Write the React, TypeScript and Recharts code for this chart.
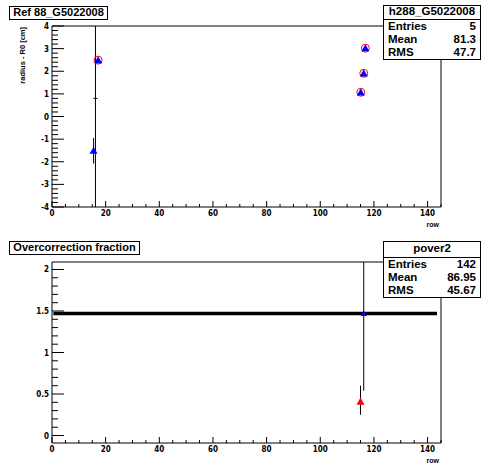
import React from 'react'
import { ScatterChart, Scatter, XAxis, YAxis, ErrorBar, ReferenceArea, Label } from 'recharts'

const FONT = '"Liberation Sans", Arial, Helvetica, sans-serif'
const TICK_FONT = '"Liberation Sans Narrow", "DejaVu Sans Condensed", "Liberation Sans", sans-serif'

// Top panel: radius - R0 per row
const refRows = [17.2, 115.1, 116.2, 116.8]
const refValues = [2.49, 1.07, 1.91, 3.02]
const fitRows = [15.5, 17.2, 115.1, 116.2, 116.8]
const fitValues = [-1.51, 2.49, 1.07, 1.91, 3.02]
const fitErrors = [[0.57, 0.56], [0, 0], [0, 0], [0, 0], [0, 0]]
const wideRows = [16.2]
const wideValues = [0.8]
const wideErrors = [[4.8, 3.2]]

// Bottom panel: overcorrection fraction
const levelRows = [0.5, 143.5]
const levelValues = [1.47, 1.47]
const blueRows = [116.2]
const blueValues = [1.47]
const blueErrors = [[0.93, 0.62]]
const redRows = [115.0]
const redValues = [0.41]
const redErrors = [[0.16, 0.19]]

// axis labels
const rowTicks = [0, 20, 40, 60, 80, 100, 120, 140]
const radiusTicks = [-4, -3, -2, -1, 0, 1, 2, 3, 4]
const fractionTicks = [0, 0.5, 1, 1.5, 2]

const topStats = [['Entries', '5'], ['Mean', '81.3'], ['RMS', '47.7']]
const bottomStats = [['Entries', '142'], ['Mean', '86.95'], ['RMS', '45.67']]

const toPoints = (xs: number[], ys: number[], errs?: number[][]) =>
    xs.map((x, i) => ({ x, y: ys[i], err: errs ? errs[i] : undefined }))

// major ticks plus the small ones in between
function subdivide(lo: number, hi: number, step: number) {
    const out: number[] = []
    for (let v = lo; v <= hi + 1e-9; v += step) out.push(Math.round(v * 1000) / 1000)
    return out
}
const isMajor = (majors: number[], v: number) => majors.some(m => Math.abs(m - v) < 1e-6)

const rowAll = subdivide(0, 145, 5)

function XTick(props: any) {
    const { x, y, payload } = props
    const major = isMajor(rowTicks, payload.value)
    const base = y - 3
    return (
        <g>
            <line x1={x} y1={base} x2={x} y2={base - (major ? 6 : 3)} stroke="#000" />
            {major && (
                <text x={x} y={base + 9} textAnchor="middle" fontSize={8} fontWeight="bold" fontFamily={TICK_FONT} fill="#000">
                    {payload.value}
                </text>
            )}
        </g>
    )
}

function YTick(props: any) {
    const { x, y, payload, majors } = props
    const major = isMajor(majors, payload.value)
    const base = x + 4
    return (
        <g>
            <line x1={base} y1={y} x2={base + (major ? 12 : 6)} y2={y} stroke="#000" />
            {major && (
                <text x={base - 3} y={y + 3} textAnchor="end" fontSize={8} fontWeight="bold" fontFamily={TICK_FONT} fill="#000">
                    {payload.value}
                </text>
            )}
        </g>
    )
}

const triangle = (color: string, r: number) => (p: any) => {
    const { cx, cy } = p
    if (cx == null || cy == null) return <g />
    return <polygon points={`${cx},${cy - r} ${cx - r},${cy + r * 0.8} ${cx + r},${cy + r * 0.8}`} fill={color} />
}
const openCircle = (p: any) => {
    if (p.cx == null) return <g />
    return <circle cx={p.cx} cy={p.cy} r={4} fill="none" stroke="#ff0000" strokeWidth={1} />
}
const dash = (p: any) => {
    if (p.cx == null) return <g />
    return <line x1={p.cx - 2} y1={p.cy} x2={p.cx + 2} y2={p.cy} stroke="#000" />
}
const nothing = () => <g />

function Panel({ yDomain, yAll, yMajors, yLabel, children }: any) {
    return (
        <ScatterChart width={496} height={236} margin={{ top: 26, right: 55, bottom: 9, left: 12 }}>
            <XAxis
                type="number"
                dataKey="x"
                domain={[0, 145]}
                allowDataOverflow
                ticks={rowAll}
                interval={0}
                tickSize={0}
                tickMargin={3}
                axisLine={false}
                height={20}
                tick={(p: any) => <XTick {...p} />}
            >
                <Label
                    content={({ viewBox }: any) => (
                        <text x={viewBox.x + viewBox.width - 2} y={viewBox.y + 20} textAnchor="end" fontSize={7} fontWeight="bold" fontFamily={FONT}>
                            row
                        </text>
                    )}
                />
            </XAxis>
            <YAxis
                type="number"
                dataKey="y"
                domain={yDomain}
                allowDataOverflow
                ticks={yAll}
                interval={0}
                tickSize={0}
                tickMargin={4}
                axisLine={false}
                width={40}
                tick={(p: any) => <YTick {...p} majors={yMajors} />}
            >
                {yLabel && (
                    <Label
                        content={({ viewBox }: any) => (
                            <text
                                x={viewBox.x + 13}
                                y={viewBox.y + 1}
                                transform={`rotate(-90 ${viewBox.x + 13} ${viewBox.y + 1})`}
                                textAnchor="end"
                                fontSize={7.5}
                                fontWeight="bold"
                                fontFamily={FONT}
                            >
                                {yLabel}
                            </text>
                        )}
                    />
                )}
            </YAxis>
            <ReferenceArea x1={0} x2={145} y1={yDomain[0]} y2={yDomain[1]} fill="none" stroke="#000" strokeWidth={1} ifOverflow="visible" />
            {children}
        </ScatterChart>
    )
}

function TitleBox({ left, top, width, text }: any) {
    return (
        <div
            style={{
                position: 'absolute', left, top, width, height: 12, border: '1px solid #000', background: '#fff',
                fontFamily: FONT, fontSize: 11, fontWeight: 'bold', lineHeight: '10px', textAlign: 'center',
            }}
        >
            {text}
        </div>
    )
}

function StatsBox({ left, top, title, rows, headH }: any) {
    return (
        <div
            style={{
                position: 'absolute', left, top, width: 96, border: '1px solid #000', background: '#fff',
                fontFamily: FONT, fontSize: 11.5, fontWeight: 'bold', color: '#000',
            }}
        >
            <div style={{ height: headH, lineHeight: headH - 2 + 'px', textAlign: 'center', borderBottom: '1px solid #000' }}>{title}</div>
            {rows.map(([k, v]: string[]) => (
                <div key={k} style={{ display: 'flex', justifyContent: 'space-between', padding: '0 4px', height: 13, lineHeight: '13px' }}>
                    <span>{k}</span>
                    <span>{v}</span>
                </div>
            ))}
        </div>
    )
}

export default function App() {
    return (
        <div style={{ position: 'absolute', left: 0, top: 0, width: 496, height: 472, background: '#fff' }}>
            <div style={{ position: 'absolute', left: 0, top: 0 }}>
                <Panel yDomain={[-4, 4]} yAll={subdivide(-4, 4, 0.2)} yMajors={radiusTicks} yLabel="radius - R0 [cm]">
                    <Scatter data={toPoints(wideRows, wideValues, wideErrors)} shape={dash} isAnimationActive={false}>
                        <ErrorBar dataKey="err" direction="y" width={0} stroke="#000" strokeWidth={1} isAnimationActive={false} />
                    </Scatter>
                    <Scatter data={toPoints(refRows, refValues)} shape={openCircle} isAnimationActive={false} />
                    <Scatter data={toPoints(fitRows, fitValues, fitErrors)} shape={triangle('#0000ff', 4)} isAnimationActive={false}>
                        <ErrorBar dataKey="err" direction="y" width={0} stroke="#000" strokeWidth={1} isAnimationActive={false} />
                    </Scatter>
                </Panel>
            </div>
            <div style={{ position: 'absolute', left: 0, top: 236 }}>
                <Panel yDomain={[-0.09, 2.09]} yAll={subdivide(0, 2, 0.1)} yMajors={fractionTicks}>
                    <Scatter
                        data={toPoints(levelRows, levelValues)}
                        shape={nothing}
                        line={{ stroke: '#000', strokeWidth: 3.5 }}
                        isAnimationActive={false}
                    />
                    <Scatter data={toPoints(blueRows, blueValues, blueErrors)} shape={triangle('#0000ff', 3)} isAnimationActive={false}>
                        <ErrorBar dataKey="err" direction="y" width={0} stroke="#000" strokeWidth={1} isAnimationActive={false} />
                    </Scatter>
                    <Scatter data={toPoints(redRows, redValues, redErrors)} shape={triangle('#ff0000', 4)} isAnimationActive={false}>
                        <ErrorBar dataKey="err" direction="y" width={0} stroke="#000" strokeWidth={1} isAnimationActive={false} />
                    </Scatter>
                </Panel>
            </div>
            <TitleBox left={9} top={6} width={97} text="Ref 88_G5022008" />
            <TitleBox left={9} top={241} width={129} text="Overcorrection fraction" />
            <StatsBox left={383} top={5} headH={13} title="h288_G5022008" rows={topStats} />
            <StatsBox left={383} top={241} headH={15} title="pover2" rows={bottomStats} />
        </div>
    )
}
